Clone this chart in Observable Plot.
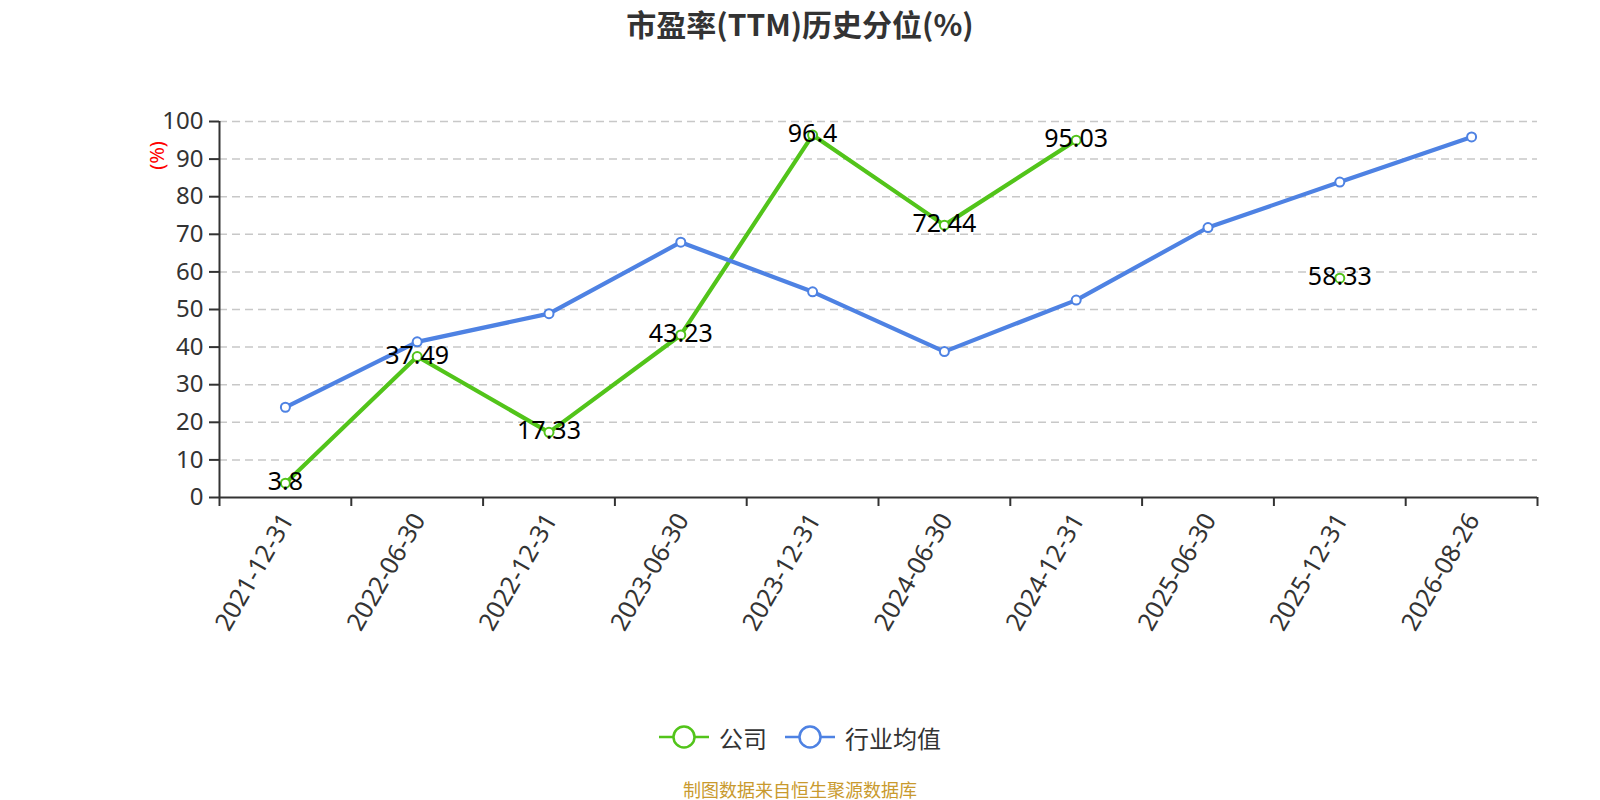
<!DOCTYPE html>
<html>
<head>
<meta charset="utf-8">
<script src="https://cdn.jsdelivr.net/npm/d3@7"></script>
<script src="https://cdn.jsdelivr.net/npm/@observablehq/plot@0.6"></script>
<style>
  html, body { margin: 0; padding: 0; background: #fff; }
  body { width: 1600px; height: 800px; overflow: hidden; font-family: "Noto Sans", "Noto Sans CJK SC", sans-serif; }
  #title { height: 50px; line-height: 46px; text-align: center; font-size: 30px; font-weight: bold; color: #333; font-family: "Noto Sans CJK SC", "Noto Sans", sans-serif; }
  #chart { height: 650px; }
  #legend { height: 74px; display: flex; justify-content: center; align-items: center; gap: 18px; font-size: 24px; color: #333; font-family: "Noto Sans CJK SC", sans-serif; }
  .item { display: flex; align-items: center; gap: 10px; }
  #caption { height: 26px; line-height: 26px; padding-top: 2px; text-align: center; font-size: 18px; color: #c99a2e; font-family: "Noto Sans CJK SC", sans-serif; }
</style>
</head>
<body>
<div id="title">市盈率(TTM)历史分位(%)</div>
<div id="chart"></div>
<div id="legend"></div>
<div id="caption">制图数据来自恒生聚源数据库</div>
<script>
const dates = ["2021-12-31","2022-06-30","2022-12-31","2023-06-30","2023-12-31","2024-06-30","2024-12-31","2025-06-30","2025-12-31","2026-08-26"];
const company = [3.8, 37.49, 17.33, 43.23, 96.4, 72.44, 95.03, null, 58.33, null];
const industry = [24.0, 41.4, 48.9, 67.9, 54.7, 38.8, 52.5, 71.8, 83.9, 95.9];
const seriesNames = ["公司", "行业均值"];
const colors = ["#52c41a", "#4e82e3"];
const yTicks = [0, 10, 20, 30, 40, 50, 60, 70, 80, 90, 100];

const companyData = dates.map((d, i) => ({i, date: d, v: company[i]}));
const industryData = dates.map((d, i) => ({i, date: d, v: industry[i]}));
const companyDefined = companyData.filter(d => d.v != null);

const chart = Plot.plot({
  width: 1600,
  height: 650,
  marginLeft: 219,
  marginRight: 63,
  marginTop: 71,
  marginBottom: 203,
  style: {fontFamily: "'Noto Sans', 'Noto Sans CJK SC', sans-serif", background: "#fff"},
  x: {type: "linear", domain: [0, dates.length], axis: null},
  y: {domain: [0, 100], axis: null},
  marks: [
    Plot.gridY(yTicks.filter(t => t > 0), {stroke: "#c8c8c8", strokeOpacity: 1, strokeDasharray: "8,5", strokeWidth: 1.5}),
    Plot.axisY({ticks: yTicks, tickSize: 10, tickPadding: 6, fontSize: 24, color: "#333", stroke: "#333", strokeWidth: 2, label: null}),
    Plot.axisX({ticks: d3.range(dates.length + 1), tickSize: 9, tickFormat: () => "", stroke: "#333", strokeWidth: 2, label: null}),
    Plot.axisX({ticks: d3.range(dates.length).map(i => i + 0.5), tickSize: 0, tickPadding: 18, tickRotate: -60, dx: 2,
      tickFormat: t => dates[Math.floor(t)], fontSize: 25, color: "#333", label: null}),
    Plot.ruleX([0], {stroke: "#333", strokeWidth: 2}),
    Plot.ruleY([0], {stroke: "#333", strokeWidth: 2}),
    Plot.text(["(%)"], {frameAnchor: "top-left", textAnchor: "middle", lineAnchor: "middle", rotate: -90, dx: -62, dy: 34, fill: "red", fontSize: 20}),
    Plot.line(companyData, {x: d => d.i + 0.5, y: "v", stroke: colors[0], strokeWidth: 4.2}),
    Plot.line(industryData, {x: d => d.i + 0.5, y: "v", stroke: colors[1], strokeWidth: 4.2}),
    Plot.dot(companyDefined, {x: d => d.i + 0.5, y: "v", r: 4.5, fill: "#fff", stroke: colors[0], strokeWidth: 2}),
    Plot.dot(industryData, {x: d => d.i + 0.5, y: "v", r: 4.5, fill: "#fff", stroke: colors[1], strokeWidth: 2}),
    Plot.text(companyDefined, {x: d => d.i + 0.5, y: "v", text: d => String(d.v), fontSize: 25, fill: "#000", dy: -1})
  ]
});
document.getElementById("chart").appendChild(chart);

const legend = document.getElementById("legend");
seriesNames.forEach((name, k) => {
  const item = document.createElement("div");
  item.className = "item";
  item.innerHTML = `<svg width="50" height="26"><line x1="0" y1="13" x2="50" y2="13" stroke="${colors[k]}" stroke-width="2.5"/><circle cx="25" cy="13" r="10.5" fill="#fff" stroke="${colors[k]}" stroke-width="2.5"/></svg><span>${name}</span>`;
  legend.appendChild(item);
});
</script>
</body>
</html>
